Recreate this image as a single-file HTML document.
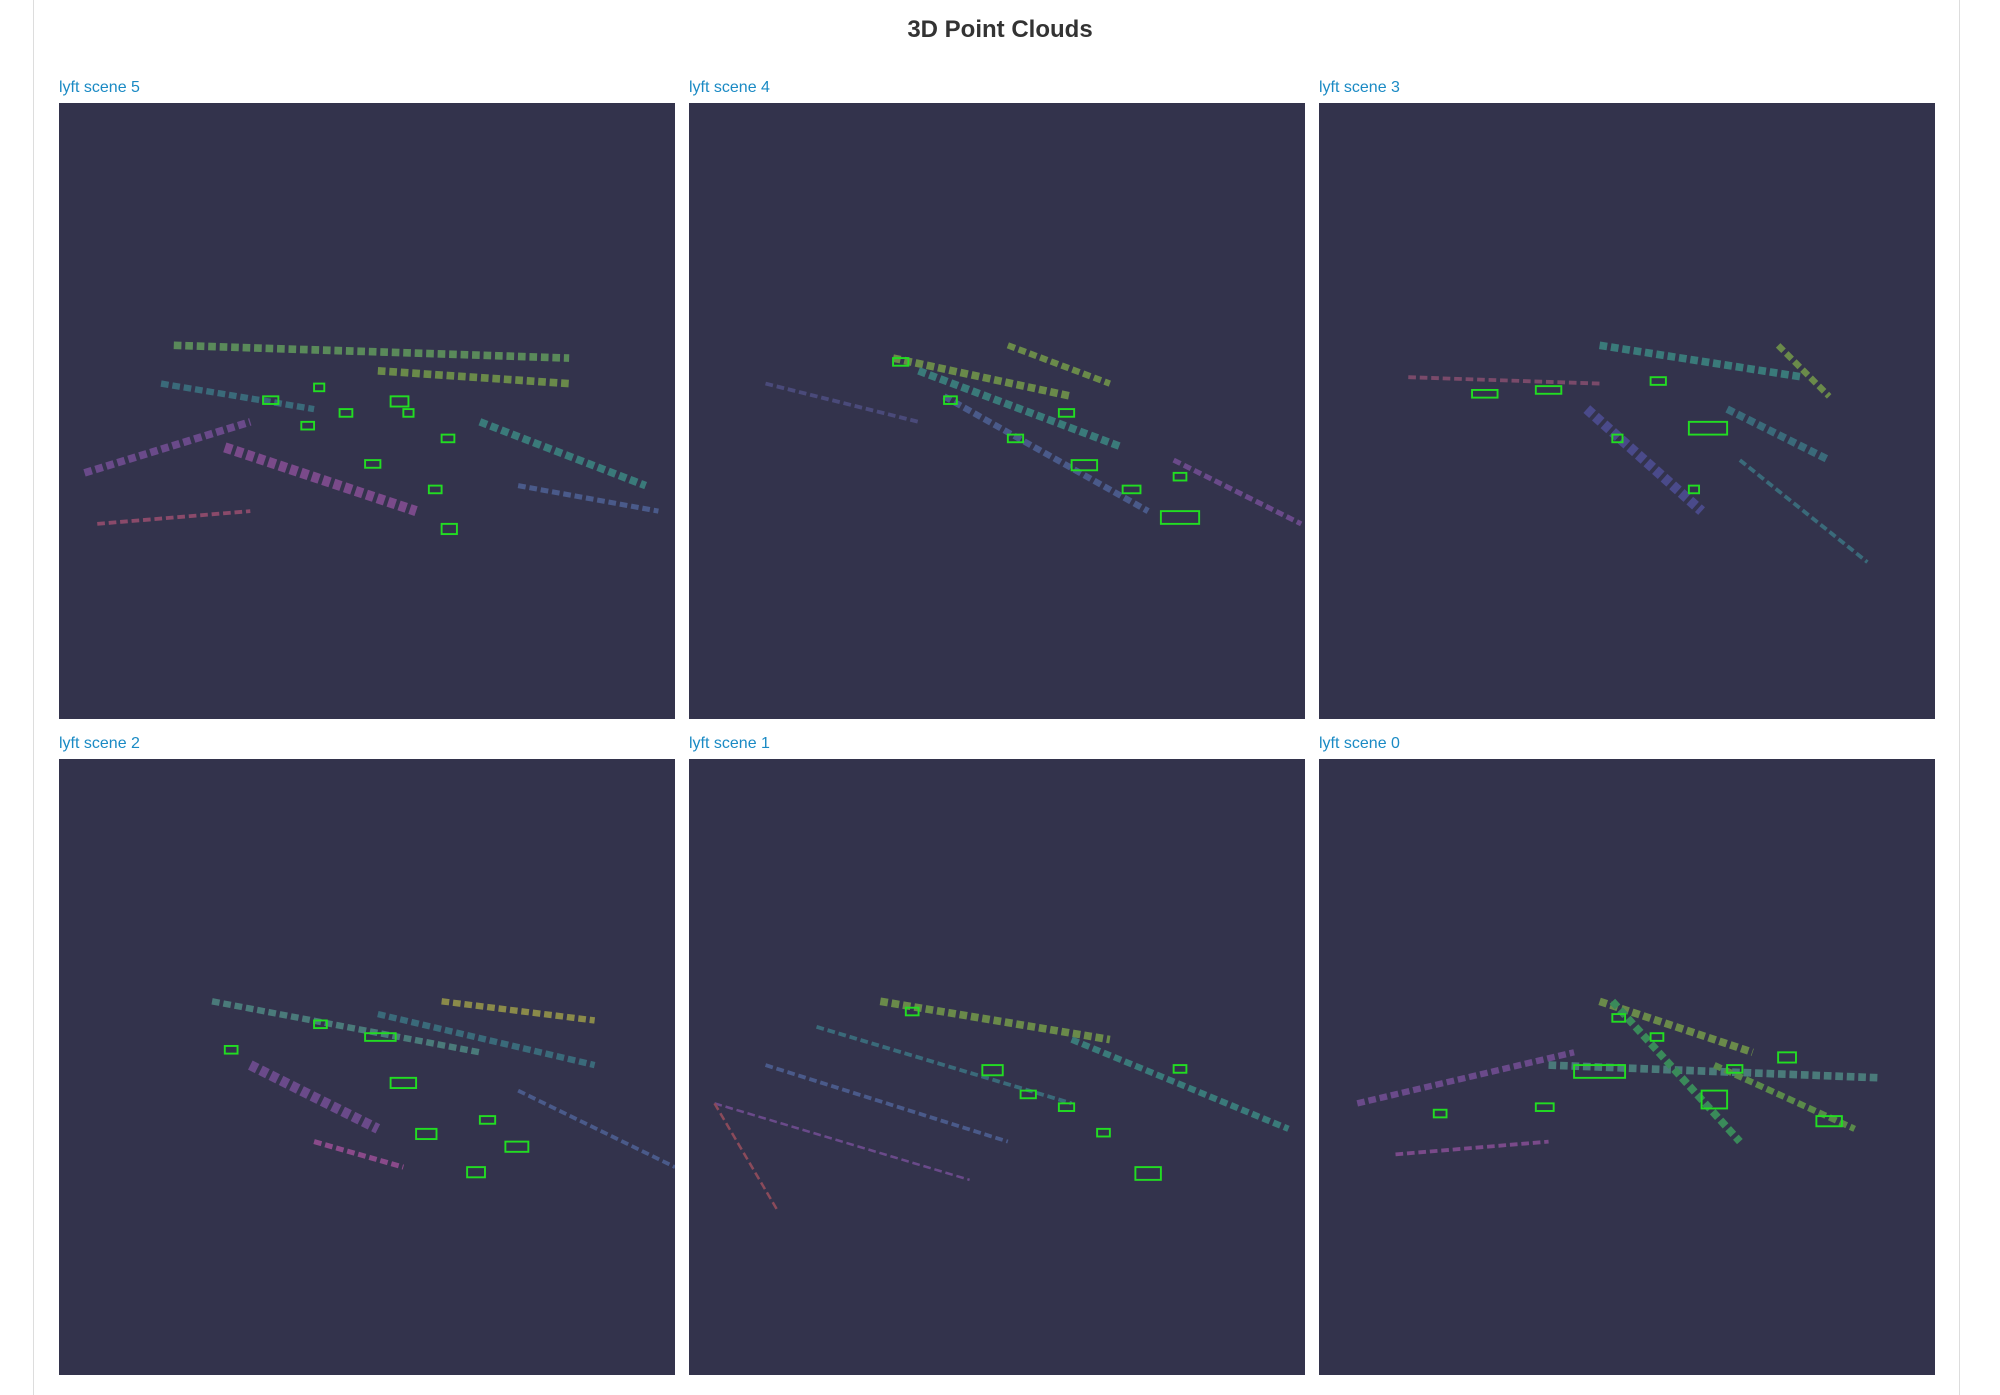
<!DOCTYPE html>
<html><head><meta charset="utf-8">
<style>
body{margin:0;width:2000px;height:1395px;background:#fff;font-family:"Liberation Sans",sans-serif;position:relative;overflow:hidden}
.frame{position:absolute;left:33px;top:0;width:1927px;height:1395px;border-left:1px solid #ddd;border-right:1px solid #ddd;box-sizing:border-box}
.title{position:absolute;left:0;width:2000px;top:16px;text-align:center;font-size:24px;font-weight:bold;color:#333}
.lbl{position:absolute;font-size:16px;color:#1a8ac4}
svg.p{position:absolute;width:616px;height:616px;background:#33334c}
</style></head><body>
<div class="frame"></div>
<div class="title">3D Point Clouds</div>
<div id="root"></div>
<script>
const sceneNames=["lyft scene 5","lyft scene 4","lyft scene 3","lyft scene 2","lyft scene 1","lyft scene 0"];
const panelX=[59,689,1319,59,689,1319];
const panelY=[103,103,103,759,759,759];
// streaks: x1,y1,x2,y2,color,width in 483-unit panel space
const streaks=[
[[90,190,400,200,"#5a8a5a",6],[20,290,150,250,"#6a4a8a",6],[130,270,280,320,"#7a4a8a",8],[330,250,460,300,"#3a7a7a",6],[80,220,200,240,"#3a6a7a",5],[250,210,400,220,"#6a8a4a",6],[30,330,150,320,"#8a4a6a",3],[360,300,470,320,"#4a5a8a",4]],
[[160,200,300,230,"#6a8a4a",6],[180,210,340,270,"#3a7a7a",6],[200,230,360,320,"#4a5a8a",5],[60,220,180,250,"#4a4a7a",3],[380,280,480,330,"#6a4a8a",4],[250,190,330,220,"#6a8a4a",5]],
[[70,215,220,220,"#7a4a6a",3],[220,190,380,215,"#3a7a7a",6],[210,240,300,320,"#4a4a8a",8],[320,240,400,280,"#3a6a7a",6],[330,280,430,360,"#3a6a7a",3],[360,190,400,230,"#6a8a4a",5]],
[[120,190,330,230,"#4a7a7a",5],[150,240,250,290,"#6a4a8a",8],[250,200,420,240,"#3a6a7a",5],[300,190,420,205,"#8a8a4a",5],[200,300,270,320,"#8a4a8a",4],[360,260,483,320,"#4a5a8a",3]],
[[150,190,330,220,"#6a8a4a",6],[100,210,300,270,"#3a6a7a",3],[60,240,250,300,"#4a5a8a",3],[20,270,220,330,"#6a4a8a",2],[20,270,70,355,"#8a4a5a",2],[300,220,470,290,"#3a7a7a",5]],
[[30,270,200,230,"#6a4a8a",5],[220,190,340,230,"#6a8a4a",6],[180,240,440,250,"#4a7a7a",6],[230,190,330,300,"#3a8a5a",6],[310,240,420,290,"#5a8a4a",5],[60,310,180,300,"#7a4a8a",3]]
];
// boxes: x,y,w,h
const boxes=[
[[160,230,12,6],[190,250,10,6],[220,240,10,6],[260,230,14,8],[300,260,10,6],[240,280,12,6],[290,300,10,6],[300,330,12,8],[200,220,8,6],[270,240,8,6]],
[[160,200,12,6],[200,230,10,6],[250,260,12,6],[300,280,20,8],[340,300,14,6],[370,320,30,10],[380,290,10,6],[290,240,12,6]],
[[120,225,20,6],[170,222,20,6],[260,215,12,6],[290,250,30,10],[230,260,8,6],[290,300,8,6]],
[[130,225,10,6],[200,205,10,6],[240,215,24,6],[260,250,20,8],[280,290,16,8],[330,280,12,6],[350,300,18,8],[320,320,14,8]],
[[170,195,10,6],[230,240,16,8],[260,260,12,6],[290,270,12,6],[320,290,10,6],[350,320,20,10],[380,240,10,6]],
[[200,240,40,10],[230,200,10,6],[260,215,10,6],[300,260,20,14],[320,240,12,6],[360,230,14,8],[390,280,20,8],[170,270,14,6],[90,275,10,6]]
];
const root=document.getElementById('root');
const NS="http://www.w3.org/2000/svg";
sceneNames.forEach((n,i)=>{
  const l=document.createElement('div');
  l.className='lbl';l.textContent=n;
  l.style.left=panelX[i]+'px';l.style.top=(panelY[i]-24)+'px';
  
  
  root.appendChild(l);
  const s=document.createElementNS(NS,'svg');
  s.setAttribute('class','p');s.setAttribute('viewBox','0 0 483 483');
  s.style.left=panelX[i]+'px';s.style.top=panelY[i]+'px';
  
  
  streaks[i].forEach(t=>{
    const ln=document.createElementNS(NS,'line');
    ln.setAttribute('x1',t[0]);ln.setAttribute('y1',t[1]);ln.setAttribute('x2',t[2]);ln.setAttribute('y2',t[3]);
    ln.setAttribute('stroke',t[4]);ln.setAttribute('stroke-width',t[5]);ln.setAttribute('stroke-dasharray','6 3');
    
    
    s.appendChild(ln);
  });
  boxes[i].forEach(b=>{
    const r=document.createElementNS(NS,'rect');
    r.setAttribute('x',b[0]);r.setAttribute('y',b[1]);r.setAttribute('width',b[2]);r.setAttribute('height',b[3]);
    r.setAttribute('fill','none');r.setAttribute('stroke','#22dd22');r.setAttribute('stroke-width','1.5');
    
    
    s.appendChild(r);
  });
  root.appendChild(s);
});
</script>
</body></html>
